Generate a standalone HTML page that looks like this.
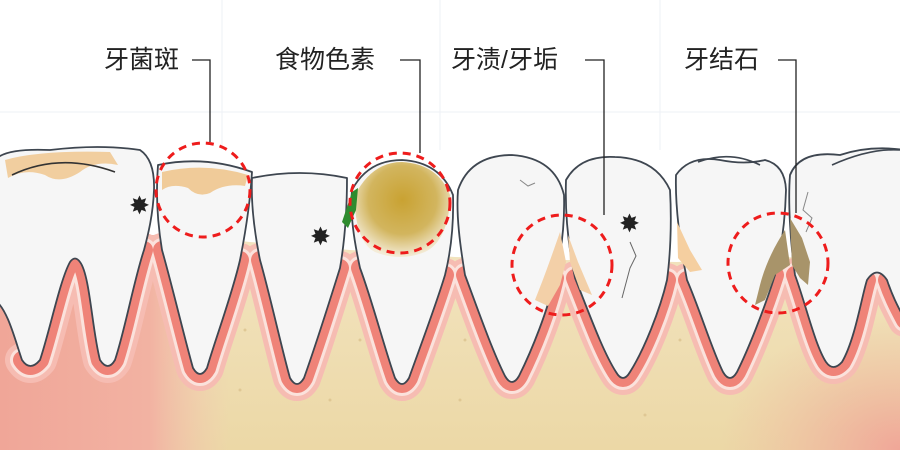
<!DOCTYPE html>
<html><head><meta charset="utf-8"><style>
html,body{margin:0;padding:0;background:#fff;}
svg{display:block}
text{font-family:"Liberation Sans","Noto Sans CJK SC",sans-serif;font-size:25px;fill:#222}
</style></head><body>
<svg width="900" height="450" viewBox="0 0 900 450" xmlns="http://www.w3.org/2000/svg">
<defs>
<linearGradient id="bone" x1="0" y1="0" x2="0" y2="1">
<stop offset="0" stop-color="#f2e4c0"/><stop offset="1" stop-color="#ecd8a6"/></linearGradient>
<linearGradient id="lp" x1="0" y1="0" x2="1" y2="0">
<stop offset="0" stop-color="#f0a698"/><stop offset="0.65" stop-color="#f2b2a2"/><stop offset="1" stop-color="#f2c8b0" stop-opacity="0"/></linearGradient>
<radialGradient id="rp" cx="1" cy="1" r="0.9">
<stop offset="0" stop-color="#f0a698"/><stop offset="1" stop-color="#f0b8a0" stop-opacity="0"/></radialGradient>
<radialGradient id="stain" cx="0.5" cy="0.4" r="0.6">
<stop offset="0" stop-color="#c9a232"/><stop offset="0.6" stop-color="#d2b55e"/><stop offset="1" stop-color="#f4ecd8"/></radialGradient>
<g id="roots">
<path d="M144,250 C134,280 125,330 115,360 Q108,372 100,360 C92,330 90,275 80,262 Q75,255 70,262 C60,280 50,330 40,360 Q30,372 22,360"/>
<path d="M162,250 C172,285 185,340 193,368 Q200,380 207,368 C215,340 232,295 240,260"/>
<path d="M260,260 C270,295 282,350 290,378 Q297,390 304,378 C314,350 330,300 340,268"/>
<path d="M360,268 C372,300 385,350 395,378 Q402,390 409,378 C419,350 436,305 445,275"/>
<path d="M465,275 C478,310 492,350 505,376 Q512,388 519,376 C532,350 548,310 555,278"/>
<path d="M575,278 C588,310 602,350 616,372 Q623,384 630,372 C644,350 660,310 667,280"/>
<path d="M687,280 C700,310 712,350 723,372 Q730,384 737,372 C748,350 764,310 775,275"/>
<path d="M795,275 C806,305 815,345 826,362 Q833,372 842,362 C855,340 862,295 867,280"/>
<path d="M887,280 C892,295 897,305 905,320"/>
</g>
</defs>
<rect x="0" y="0" width="900" height="450" fill="#fff"/>
<rect x="0" y="235" width="900" height="215" fill="url(#bone)"/>
<g fill="#d9bf8a" opacity="0.7">
<circle cx="170" cy="290" r="1.5"/><circle cx="245" cy="330" r="1.5"/><circle cx="340" cy="300" r="1.5"/><circle cx="360" cy="340" r="1.5"/>
<circle cx="450" cy="300" r="1.5"/><circle cx="465" cy="340" r="1.5"/><circle cx="555" cy="310" r="1.5"/><circle cx="545" cy="355" r="1.5"/>
<circle cx="665" cy="300" r="1.5"/><circle cx="680" cy="340" r="1.5"/><circle cx="770" cy="330" r="1.5"/><circle cx="645" cy="415" r="1.5"/>
<circle cx="240" cy="390" r="1.5"/><circle cx="460" cy="400" r="1.5"/><circle cx="330" cy="400" r="1.5"/>
</g>
<rect x="0" y="235" width="230" height="215" fill="url(#lp)"/>
<rect x="700" y="300" width="200" height="150" fill="url(#rp)"/>
<path d="M0,0 H900 V262 L877,262 L785,257 L677,262 L565,260 L455,257 L350,250 L250,242 L152,232 L0,232 Z" fill="#fff"/>
<g fill="none" stroke-linejoin="round" stroke-linecap="round">
<use href="#roots" stroke="#f6bcb2" stroke-width="34"/>
<use href="#roots" stroke="#fbe2dc" stroke-width="24"/>
<use href="#roots" stroke="#ef8378" stroke-width="18"/>
</g>
<g stroke="#eef0f5" stroke-width="1">
<line x1="0" y1="112" x2="900" y2="112"/><line x1="222" y1="0" x2="222" y2="145"/><line x1="440" y1="0" x2="440" y2="150"/><line x1="660" y1="0" x2="660" y2="150"/>
</g>
<g fill="#f6f6f6" stroke="#3e4650" stroke-width="1.8" stroke-linejoin="round">
<path d="M-5,160 Q5,148 50,150 Q100,144 140,150 Q155,160 154,190 C153,215 148,235 144,250 C134,280 125,330 115,360 Q108,372 100,360 C92,330 90,275 80,262 Q75,255 70,262 C60,280 50,330 40,360 Q30,372 22,360 C15,340 8,310 -5,300 Z"/>
<path d="M158,165 Q205,155 252,172 C250,205 245,235 240,260 C232,295 215,340 207,368 Q200,380 193,368 C185,340 172,285 162,250 C157,220 156,190 158,165 Z"/>
<path d="M252,178 Q300,168 347,178 C347,215 344,245 340,268 C330,300 314,350 304,378 Q297,390 290,378 C282,350 270,295 260,260 C254,230 251,200 252,178 Z"/>
<path d="M352,190 Q368,160 402,160 Q440,162 453,195 C454,230 450,255 445,275 C436,305 419,350 409,378 Q402,390 395,378 C385,350 372,300 360,268 C354,240 350,215 352,190 Z"/>
<path d="M458,190 Q470,155 512,155 Q555,158 564,195 C565,230 560,258 555,278 C548,310 532,350 519,376 Q512,388 505,376 C492,350 478,310 465,275 C460,245 456,215 458,190 Z"/>
<path d="M566,180 Q580,155 615,157 Q655,158 670,190 C672,225 670,258 667,280 C660,310 644,350 630,372 Q623,384 616,372 C602,350 588,310 575,278 C568,245 565,210 566,180 Z"/>
<path d="M676,175 Q690,155 720,160 Q745,165 765,160 Q785,165 786,190 C785,225 780,255 775,275 C764,310 748,350 737,372 Q730,384 723,372 C712,350 700,310 687,280 C680,245 675,205 676,175 Z"/>
<path d="M790,175 Q800,150 840,155 Q870,145 905,150 L905,320 C897,305 892,295 887,280 Q877,265 867,280 C862,295 855,340 842,362 Q833,372 826,362 C815,345 806,305 795,275 C790,240 788,200 790,175 Z"/>
</g>
<path d="M355,195 Q372,162 402,162 Q438,164 450,195 C450,225 440,245 425,252 Q400,262 375,252 C360,245 354,220 355,195 Z" fill="url(#stain)"/>
<path d="M162,172 Q205,162 248,175 L245,186 Q225,183 210,193 Q198,198 188,188 Q172,183 162,190 Z" fill="#f0c78f" opacity="0.9"/>
<path d="M5,160 Q40,150 110,152 L118,165 Q95,160 80,172 Q60,185 45,175 Q25,168 8,178 Z" fill="#f0c78f" opacity="0.85"/>
<path d="M12,175 Q60,152 115,172" stroke="#333" stroke-width="1.6" fill="none"/>
<path d="M698,162 Q730,150 760,165" stroke="#3e4650" stroke-width="1.6" fill="none"/>
<path d="M832,165 Q870,148 900,150" stroke="#3e4650" stroke-width="1.6" fill="none"/>
<path d="M352,192 L358,188 L356,210 L348,228 L342,222 Z" fill="#2e8b2e"/>
<path d="M560,232 C552,255 545,275 535,300 L548,306 L560,285 L566,262 Z" fill="#f3d0a8"/>
<path d="M568,235 L578,262 L592,295 L580,290 L570,262 Z" fill="#f3d0a8"/>
<path d="M677,222 L690,250 L702,270 L690,272 L678,258 Z" fill="#f5cfa0"/>
<path d="M785,230 C775,245 765,265 760,285 L755,305 L765,300 L775,275 L790,265 Z" fill="#a8946a"/>
<path d="M790,218 L802,238 L810,262 L808,285 L800,278 L792,265 Z" fill="#a8946a"/>
<path d="M630,242 L636,256 L630,268 L622,298" stroke="#666" stroke-width="1" fill="none"/>
<path d="M808,192 L803,210 L812,218 L806,232" stroke="#888" stroke-width="1" fill="none"/>
<path d="M520,180 L528,186 L535,183" stroke="#888" stroke-width="1" fill="none"/>
<text x="129" y="214" font-size="22" fill="#333">✸</text>
<text x="310" y="245" font-size="22" fill="#333">✸</text>
<text x="619" y="232" font-size="12" fill="#333">✸</text>
<g fill="none" stroke="#ee1c1c" stroke-width="3" stroke-dasharray="8,6">
<circle cx="203" cy="190" r="47"/><circle cx="400" cy="203" r="50"/><circle cx="562" cy="265" r="50"/><circle cx="778" cy="263" r="50"/>
</g>
<g fill="none" stroke="#222" stroke-width="1.3">
<path d="M192,60 H210 V142"/><path d="M400,60 H420 V153"/><path d="M585,60 H604 V215"/><path d="M778,60 H796 V213"/>
</g>
<text x="104" y="68">牙菌斑</text>
<text x="275" y="68">食物色素</text>
<text x="451" y="68">牙渍/牙垢</text>
<text x="684" y="68">牙结石</text>
</svg>
</body></html>
